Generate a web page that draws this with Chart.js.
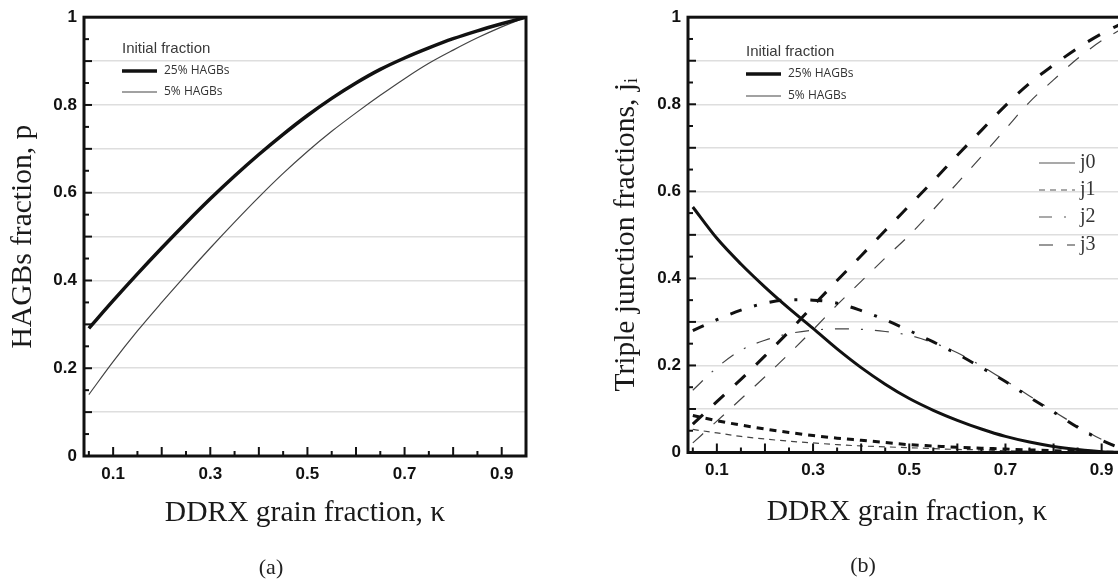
<!DOCTYPE html>
<html><head><meta charset="utf-8">
<script src="https://cdn.jsdelivr.net/npm/chart.js@4/dist/chart.umd.min.js"></script>
<style>
html,body{margin:0;padding:0;background:#fff;width:1118px;height:581px;overflow:hidden;position:relative;}
#wa{position:absolute;left:0;top:0;width:560px;height:581px;}
#wb{position:absolute;left:560px;top:0;width:600px;height:581px;}
.cap{position:absolute;font-family:"Liberation Serif","Times New Roman",serif;font-size:22px;color:#222;transform:translate(-50%,-50%);line-height:1;white-space:nowrap;}
</style></head><body>
<div id="wa"><canvas id="ca" width="560" height="581"></canvas></div>
<div id="wb"><canvas id="cb" width="600" height="581"></canvas></div>
<div class="cap" style="left:271px;top:567px">(a)</div>
<div class="cap" style="left:863px;top:565px">(b)</div>
<script>
// ---- data ----
const kappa = [0.05,0.10,0.15,0.20,0.25,0.30,0.35,0.40,0.45,0.50,0.55,0.60,0.65,0.70,0.75,0.80,0.85,0.90,0.95];
// panel (a): HAGBs fraction p
const p25 = [0.291,0.354,0.415,0.474,0.531,0.586,0.638,0.687,0.733,0.776,0.815,0.850,0.881,0.907,0.930,0.951,0.969,0.985,1.000];
const p5  = [0.140,0.215,0.285,0.350,0.413,0.474,0.533,0.590,0.644,0.694,0.740,0.782,0.822,0.860,0.895,0.925,0.953,0.978,1.000];
// panel (b): triple junction fractions
const j0_25 = [0.564,0.492,0.433,0.380,0.331,0.285,0.238,0.195,0.157,0.124,0.097,0.074,0.054,0.037,0.024,0.014,0.007,0.002,0.000];
const j1_25 = [0.085,0.073,0.063,0.054,0.046,0.039,0.033,0.028,0.023,0.018,0.015,0.012,0.010,0.008,0.006,0.004,0.003,0.001,0.000];
const j1_5  = [0.053,0.045,0.037,0.031,0.026,0.022,0.018,0.015,0.013,0.011,0.009,0.007,0.006,0.004,0.003,0.002,0.001,0.0005,0.000];
const j2_25 = [0.280,0.305,0.327,0.343,0.351,0.350,0.343,0.326,0.305,0.280,0.254,0.226,0.195,0.163,0.127,0.093,0.058,0.028,0.005];
const j2_5  = [0.143,0.195,0.235,0.258,0.273,0.281,0.284,0.283,0.278,0.269,0.252,0.229,0.199,0.165,0.130,0.095,0.061,0.030,0.008];
const j3_25 = [0.065,0.117,0.168,0.222,0.278,0.337,0.395,0.452,0.510,0.567,0.624,0.683,0.740,0.797,0.848,0.890,0.929,0.962,0.990];
const j3_5  = [0.022,0.072,0.123,0.174,0.227,0.282,0.339,0.393,0.447,0.499,0.558,0.619,0.680,0.743,0.805,0.856,0.905,0.946,0.978];
// ticks & labels
const xLabelValues = [0.1,0.3,0.5,0.7,0.9];
const xTickLabels = ['0.1','0.3','0.5','0.7','0.9'];
const yLabelValues = [0,0.2,0.4,0.6,0.8,1];
const yTickLabels = ['0','0.2','0.4','0.6','0.8','1'];
const yGridValues = [0,0.1,0.2,0.3,0.4,0.5,0.6,0.7,0.8,0.9,1];
const xMarkValues = [0.05,0.1,0.15,0.2,0.25,0.3,0.35,0.4,0.45,0.5,0.55,0.6,0.65,0.7,0.75,0.8,0.85,0.9];
const yMarkValues = [0.05,0.1,0.15,0.2,0.25,0.3,0.35,0.4,0.45,0.5,0.55,0.6,0.65,0.7,0.75,0.8,0.85,0.9,0.95];
const xTitle = 'DDRX grain fraction, κ';
const yTitleA = 'HAGBs fraction, p';
const yTitleB = 'Triple junction fractions, jᵢ';
const legendTitle = 'Initial fraction';
const legendInit = ['25% HAGBs','5% HAGBs'];
const legendJ = ['j0','j1','j2','j3'];

// ---- styling helpers ----
const SERIF = '"Liberation Serif","Times New Roman",serif';
const SANS = '"Liberation Sans",Arial,sans-serif';
const OSANS = '"Open Sans","Liberation Sans",Arial,sans-serif';
const THICK = '#111', THIN = '#444';

function pts(ys){ return kappa.map((k,i)=>({x:k,y:ys[i]})); }
function ds(label, ys, w, color, dash){
  return {label, data:pts(ys), borderColor:color, backgroundColor:color, borderWidth:w,
    borderDash:dash||[], pointRadius:0, fill:false, cubicInterpolationMode:'monotone',
    borderCapStyle:'butt', borderJoinStyle:'round'};
}
function near(a,b){ return Math.abs(a-b)<1e-6; }

function makeOptions(c){
  return {
    responsive:false, animation:false, devicePixelRatio:1,
    layout:{padding:{left:0, top:c.top, right:c.right, bottom:c.bottom}},
    plugins:{legend:{display:false}, tooltip:{enabled:false}, title:{display:false}},
    scales:{
      x:{type:'linear', min:0.04, max:0.95,
        afterBuildTicks:s=>{ s.ticks = xLabelValues.map(v=>({value:v})); },
        afterFit:s=>{ s.height = c.xh; },
        grid:{display:false, drawTicks:false}, border:{display:false},
        ticks:{padding:8, color:'#111', autoSkip:false, maxRotation:0,
          font:{family:SANS, size:17, weight:'bold'},
          callback:(v)=>{ const i = xLabelValues.findIndex(t=>near(t,v)); return i>=0 ? xTickLabels[i] : ''; }},
        title:{display:true, text:xTitle, color:'#1a1a1a', font:{family:SERIF, size:29.5, lineHeight:1.2}, padding:{top:0,bottom:0}}
      },
      y:{type:'linear', min:0, max:1,
        afterBuildTicks:s=>{ s.ticks = yGridValues.map(v=>({value:v})); },
        afterFit:s=>{ s.width = c.yw; },
        grid:{drawTicks:false, lineWidth:1.5,
          color:(ctx)=> (ctx.tick && (ctx.tick.value<0.001 || ctx.tick.value>0.999)) ? 'rgba(0,0,0,0)' : '#dedede'},
        border:{display:false},
        ticks:{padding:7, color:'#111', autoSkip:false,
          font:{family:SANS, size:17, weight:'bold'},
          callback:(v)=>{ const i = yLabelValues.findIndex(t=>near(t,v)); return i>=0 ? yTickLabels[i] : ''; }},
        title:{display:true, text:c.yTitle, color:'#1a1a1a', font:{family:SERIF, size:29.5, lineHeight:1.2}, padding:{top:c.ytp,bottom:0}}
      }
    }
  };
}

function drawAxesFrame(chart){
  const {ctx, chartArea:a, scales:{x,y}} = chart;
  ctx.save();
  ctx.strokeStyle = '#111';
  ctx.lineWidth = 2;
  xMarkValues.forEach(v=>{
    const px = x.getPixelForValue(v);
    const major = near(v*10, Math.round(v*10));
    ctx.beginPath(); ctx.moveTo(px, a.bottom); ctx.lineTo(px, a.bottom-(major?9:5)); ctx.stroke();
  });
  yMarkValues.forEach(v=>{
    const py = y.getPixelForValue(v);
    const major = near(v*10, Math.round(v*10));
    ctx.beginPath(); ctx.moveTo(a.left, py); ctx.lineTo(a.left+(major?8:5), py); ctx.stroke();
  });
  ctx.lineWidth = 3;
  ctx.strokeRect(a.left, a.top, a.right-a.left, a.bottom-a.top);
  ctx.restore();
}

function drawInitLegend(ctx, x0, yT, y1, y2){
  ctx.save();
  ctx.textAlign='left'; ctx.textBaseline='middle';
  ctx.fillStyle='#3a3a3a'; ctx.font='15px '+SANS;
  ctx.fillText(legendTitle, x0, yT);
  ctx.strokeStyle=THICK; ctx.lineWidth=3.5;
  ctx.beginPath(); ctx.moveTo(x0, y1); ctx.lineTo(x0+35, y1); ctx.stroke();
  ctx.strokeStyle=THIN; ctx.lineWidth=1.2;
  ctx.beginPath(); ctx.moveTo(x0, y2); ctx.lineTo(x0+35, y2); ctx.stroke();
  ctx.fillStyle='#333'; ctx.font='12px '+OSANS;
  ctx.fillText(legendInit[0], x0+42, y1);
  ctx.fillText(legendInit[1], x0+42, y2);
  ctx.restore();
}

// ---- panel (a) ----
new Chart(document.getElementById('ca'), {
  type:'line',
  data:{datasets:[
    ds(legendInit[0], p25, 3.5, THICK),
    ds(legendInit[1], p5, 1.2, THIN)
  ]},
  options: makeOptions({top:14, right:34, bottom:50.1, xh:74.9, yw:84, yTitle:yTitleA, ytp:6}),
  plugins:[{id:'frameA', afterDraw(chart){
    drawAxesFrame(chart);
    drawInitLegend(chart.ctx, 122, 49, 71, 92);
  }}]
});

// ---- panel (b) ----
const jDash = [[], [6,5], [13,12,2,12], [14,14]];
new Chart(document.getElementById('cb'), {
  type:'line',
  data:{datasets:[
    ds('j0 '+legendInit[0], j0_25, 3, THICK),
    ds('j1 '+legendInit[0], j1_25, 3, THICK, [7,6]),
    ds('j1 '+legendInit[1], j1_5, 1.2, THIN, [6,5]),
    ds('j2 '+legendInit[0], j2_25, 3, THICK, [12,13,3,13]),
    ds('j2 '+legendInit[1], j2_5, 1.2, THIN, [14,12,2,12]),
    ds('j3 '+legendInit[0], j3_25, 3, THICK, [14,15]),
    ds('j3 '+legendInit[1], j3_5, 1.2, THIN, [14,14])
  ]},
  options: makeOptions({top:15, right:34.3, bottom:50.6, xh:77.9, yw:128, yTitle:yTitleB, ytp:48.6}),
  plugins:[{id:'frameB', afterDraw(chart){
    drawAxesFrame(chart);
    const ctx = chart.ctx;
    drawInitLegend(ctx, 186, 52, 74, 96);
    ctx.save();
    const ys = [163,190,217,245];
    ctx.font='20px '+SERIF; ctx.fillStyle='#333'; ctx.textAlign='left'; ctx.textBaseline='middle';
    legendJ.forEach((t,i)=>{
      ctx.strokeStyle='#555'; ctx.lineWidth=1.2; ctx.setLineDash(jDash[i]);
      ctx.beginPath(); ctx.moveTo(479, ys[i]); ctx.lineTo(515, ys[i]); ctx.stroke();
      ctx.fillText(t, 520, ys[i]);
    });
    ctx.restore();
  }}]
});
</script>
</body></html>
